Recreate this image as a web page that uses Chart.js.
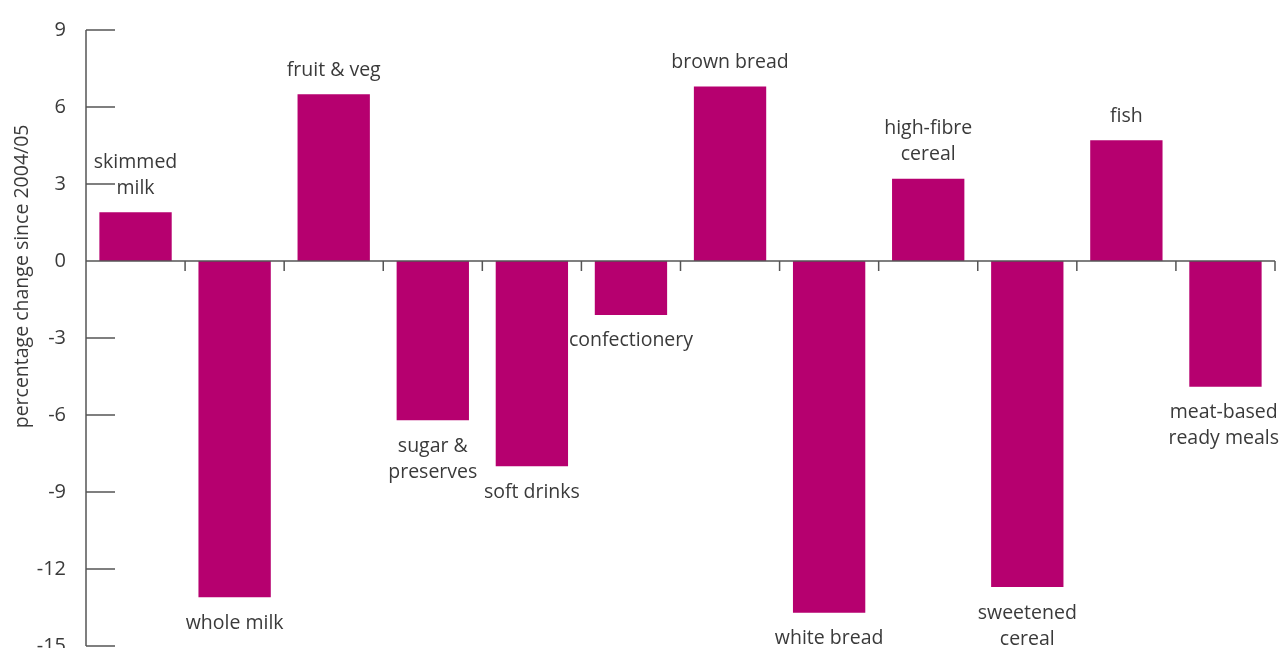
<!DOCTYPE html>
<html>
<head>
<meta charset="utf-8">
<script src="https://cdn.jsdelivr.net/npm/chart.js@4.4.0/dist/chart.umd.min.js"></script>
<style>
  html, body { margin: 0; padding: 0; background: #fff; }
  #wrap { width: 1281px; height: 648px; }
</style>
</head>
<body>
<div id="wrap"><canvas id="foodChart"></canvas></div>
<script>
// categories (multi-line labels) and percentage change since 2004/05
var categories = [
    ['skimmed', 'milk'],
    ['whole milk'],
    ['fruit & veg'],
    ['sugar &', 'preserves'],
    ['soft drinks'],
    ['confectionery'],
    ['brown bread'],
    ['white bread'],
    ['high-fibre', 'cereal'],
    ['sweetened', 'cereal'],
    ['fish'],
    ['meat-based', 'ready meals']
];
var changes = [1.9, -13.1, 6.5, -6.2, -8.0, -2.1, 6.8, -13.7, 3.2, -12.7, 4.7, -4.9];
var yTicks = [9, 6, 3, 0, -3, -6, -9, -12, -15];
var yTitle = 'percentage change since 2004/05';

var axisColor = '#555555';
var textColor = '#3a3a3a';
var fontFamily = '"Open Sans", "Noto Sans", sans-serif';

// axis line, inward ticks, zero line with category ticks, bar labels, y title
var axesPlugin = {
    id: 'axesPlugin',
    afterDatasetsDraw: function (chart) {
        var ctx = chart.ctx;
        var x = chart.scales.x;
        var y = chart.scales.y;
        var area = chart.chartArea;
        var y0 = y.getPixelForValue(0);
        var step = x.getPixelForValue(1) - x.getPixelForValue(0);

        ctx.save();
        ctx.strokeStyle = axisColor;
        ctx.lineWidth = 1.5;

        ctx.beginPath();
        ctx.moveTo(area.left, y.getPixelForValue(yTicks[0]));
        ctx.lineTo(area.left, y.getPixelForValue(yTicks[yTicks.length - 1]));
        yTicks.forEach(function (v) {
            var py = y.getPixelForValue(v);
            ctx.moveTo(area.left, py);
            ctx.lineTo(area.left + 29, py);
        });

        // zero line
        ctx.moveTo(area.left, y0);
        ctx.lineTo(area.right, y0);
        // category boundary ticks
        for (var i = 0; i < categories.length; i++) {
            var bx = x.getPixelForValue(i) + step / 2;
            ctx.moveTo(bx, y0);
            ctx.lineTo(bx, y0 + 10);
        }
        ctx.stroke();

        // labels at bar ends
        ctx.fillStyle = textColor;
        ctx.font = '19.5px ' + fontFamily;
        ctx.textAlign = 'center';
        ctx.textBaseline = 'middle';
        var meta = chart.getDatasetMeta(0);
        meta.data.forEach(function (bar, i) {
            var lines = categories[i];
            var lh = 26;
            var w = 0;
            lines.forEach(function (l) { w = Math.max(w, ctx.measureText(l).width); });
            var cx = Math.min(bar.x, chart.width - 2 - w / 2);
            lines.forEach(function (l, j) {
                var ly;
                if (changes[i] >= 0) {
                    ly = bar.y - 24 - (lines.length - 1 - j) * lh;
                } else {
                    ly = bar.y + 26 + j * lh;
                }
                ctx.fillText(l, cx, ly);
            });
        });

        // y axis title
        ctx.translate(22, y.getPixelForValue(-0.6));
        ctx.rotate(-Math.PI / 2);
        ctx.fillText(yTitle, 0, 0);
        ctx.restore();
    }
};

new Chart(document.getElementById('foodChart'), {
    type: 'bar',
    data: {
        labels: categories.map(function (c) { return c.join(' '); }),
        datasets: [{
            label: 'percentage change',
            data: changes,
            backgroundColor: '#b6006f',
            borderWidth: 0,
            barPercentage: 0.73,
            categoryPercentage: 1.0
        }]
    },
    options: {
        responsive: true,
        maintainAspectRatio: false,
        animation: false,
        layout: { padding: { top: 30, right: 6, bottom: 2, left: 0 } },
        plugins: {
            legend: { display: false },
            tooltip: { enabled: false }
        },
        scales: {
            x: {
                display: false
            },
            y: {
                min: -15,
                max: 9,
                afterFit: function (scale) {
                    scale.width = 86;
                    scale.paddingTop = 0;
                    scale.paddingBottom = 0;
                },
                border: { display: false },
                grid: { display: false, drawTicks: false },
                ticks: {
                    stepSize: 3,
                    padding: 20,
                    color: textColor,
                    font: { family: fontFamily, size: 20 }
                }
            }
        }
    },
    plugins: [axesPlugin]
});
</script>
</body>
</html>
